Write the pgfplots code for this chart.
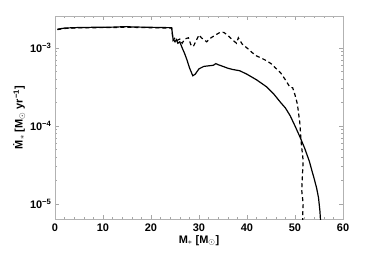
\documentclass[border=0pt]{standalone}
\usepackage{fontspec}
\setmainfont{Liberation Sans}
\usepackage{pgfplots}
\pgfplotsset{compat=1.18}
\begin{document}
\begin{tikzpicture}
\useasboundingbox (-55bp,-34bp) rectangle (311bp,219bp);
\begin{axis}[
  at={(0,0)}, anchor=south west,
  scale only axis, width=288bp, height=203bp,
  xmin=0, xmax=60, ymode=log, ymin=6.4e-6, ymax=2.57e-3,
  xtick={0,10,20,30,40,50,60},
  xticklabels={\textbf{0},\textbf{10},\textbf{20},\textbf{30},\textbf{40},\textbf{50},\textbf{60}},
  minor x tick num=4,
  ytick={1e-5,1e-4,1e-3},
  yticklabels={\textbf{10}\textsuperscript{\textbf{−5}},\textbf{10}\textsuperscript{\textbf{−4}},\textbf{10}\textsuperscript{\textbf{−3}}},
  tick align=inside, ticks=both,
  major tick length=4bp, minor tick length=2bp,
  axis line style={gray!60, line width=0.8bp},
  every tick/.style={gray!70, line width=0.5bp},
  tick label style={font=\fontsize{11}{13}\selectfont\bfseries},
  xticklabel style={yshift=-1bp},
  xlabel={\textbf{M}$_{*}$ \textbf{[M}$_{\odot}$\textbf{]}},
  ylabel={\textbf{\.M}$_{*}$ \textbf{[M}$_{\odot}$ \textbf{yr}\textsuperscript{\textbf{−1}}\textbf{]}},
  label style={font=\fontsize{11}{13}\selectfont\bfseries},
  xlabel style={yshift=3bp},
  ylabel style={yshift=-2bp},
]
\addplot[black, line width=1.2bp, dash pattern=on 4bp off 3bp] coordinates {
(0.5,1.72e-3) (2,1.78e-3) (5,1.81e-3) (8,1.82e-3) (12,1.83e-3) (15,1.85e-3) (16,1.84e-3) (18,1.83e-3) (20,1.82e-3) (22,1.81e-3) (24.3,1.80e-3)
(24.6,1.25e-3) (25,1.35e-3) (25.4,1.25e-3) (26,1.3e-3) (26.5,1.15e-3) (27,1.3e-3) (27.8,1.35e-3) (28.3,1.1e-3) (28.8,1.04e-3) (29.3,1.2e-3)
(30,1.47e-3) (30.5,1.35e-3) (31.6,1.2e-3) (32.5,1.35e-3) (33.3,1.45e-3) (34.5,1.6e-3) (35.2,1.58e-3) (36,1.45e-3) (36.8,1.3e-3) (37.8,1.15e-3)
(38.2,1.35e-3) (39,1.12e-3) (40,1.0e-3) (41,8.8e-4) (42,7.9e-4) (43,7.4e-4) (44,6.9e-4) (45,6.3e-4) (46,5.5e-4) (47,4.8e-4) (48,3.9e-4)
(49,3.1e-4) (49.5,3.1e-4) (50,2.5e-4) (50.5,1.9e-4) (51,1.1e-4) (51.3,6e-5) (51.7,3.6e-5) (51.4,1.5e-5) (51.7,1e-5) (51.6,7e-6) (51.7,5e-6)
};
\addplot[black, line width=1.2bp] coordinates {
(0.5,1.74e-3) (2,1.8e-3) (5,1.83e-3) (8,1.84e-3) (12,1.85e-3) (15,1.88e-3) (16,1.86e-3) (18,1.85e-3) (20,1.84e-3) (22,1.83e-3) (24.3,1.82e-3)
(24.6,1.3e-3) (25,1.2e-3) (25.3,1.28e-3) (25.6,1.15e-3) (26,1.2e-3) (26.5,1.0e-3) (27,8.5e-4) (27.5,7e-4) (28,5.6e-4) (28.7,4.4e-4)
(29.2,4.6e-4) (30,5.4e-4) (31,5.8e-4) (32,5.9e-4) (33,6.0e-4) (33.5,6.3e-4) (34,6.1e-4) (35,5.8e-4) (36,5.5e-4) (37,5.3e-4) (38.5,5.1e-4)
(40,4.6e-4) (42,3.9e-4) (44,3.2e-4) (45.5,2.6e-4) (47,2.0e-4) (48,1.7e-4) (49,1.35e-4) (50,1.0e-4) (51,7.3e-5) (52,5.2e-5) (53,3.5e-5)
(53.5,2.7e-5) (54,2.1e-5) (54.5,1.6e-5) (54.9,1.2e-5) (55.2,8e-6) (55.4,5e-6)
};
\end{axis}
\end{tikzpicture}
\end{document}
